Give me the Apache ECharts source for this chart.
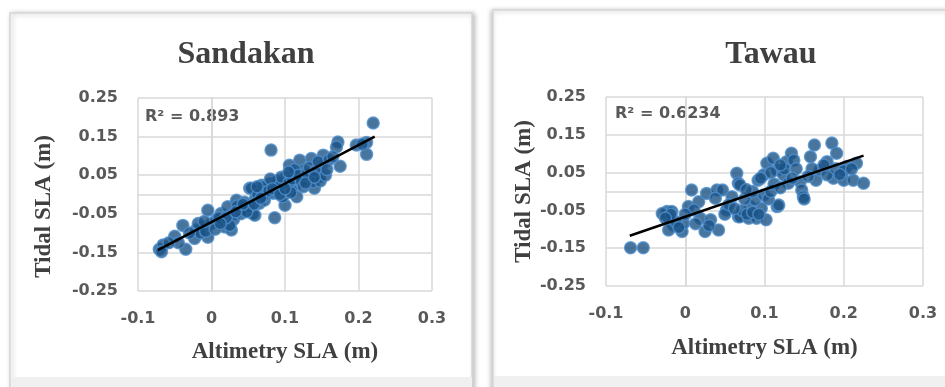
<!DOCTYPE html>
<html>
<head>
<meta charset="utf-8">
<script src="https://cdn.jsdelivr.net/npm/echarts@6/dist/echarts.min.js"></script>
<style>
  html, body { margin: 0; padding: 0; background: #fff; }
  #chart { width: 945px; height: 387px; }
</style>
</head>
<body>
<div id="chart"></div>
<script>
// values
const titles = ['Sandakan', 'Tawau'];
const r2Labels = ['R² = 0.893', 'R² = 0.6234'];

const sandakanAlt = [
  -0.071, -0.066, -0.068, -0.05, -0.039, -0.035, -0.045, -0.023, -0.021, -0.012,
  -0.005, -0.005, -0.015, 0.006, 0.013, 0.018, 0.022, 0.027, 0.027, 0.034,
  0.038, 0.045, 0.052, 0.056, 0.065, 0.068, 0.075, 0.22, 0.211, 0.211,
  0.197, 0.172, 0.17, 0.175, 0.081, 0.086, 0.1, 0.14, 0.152, 0.12,
  0.136, 0.15, 0.147, 0.134, 0.125, 0.106, 0.111, 0.102, 0.116, 0.097,
  0.079, 0.07, 0.061, 0.054, 0.084, 0.097, 0.072, 0.059, 0.052, 0.127,
  0.138, 0.109, 0.116, 0.0, -0.008, 0.01, 0.015, 0.03, 0.025, 0.04,
  0.035, 0.045, 0.048, 0.06, 0.063, 0.07, 0.078, 0.088, 0.092, 0.09,
  0.095, 0.105, 0.11, 0.113, 0.118, 0.122, 0.13, 0.133, 0.142, 0.145,
  0.148, 0.155, 0.16, 0.105, 0.08, 0.062, -0.03, -0.018, 0.005, 0.02,
  0.205, 0.165, 0.108, 0.125, -0.058, -0.01, 0.012, 0.033, 0.043, 0.058,
  0.067, 0.083, 0.093, 0.1, 0.128, 0.14, 0.157
];
const sandakanTide = [
  -0.142, -0.131, -0.148, -0.108, -0.08, -0.142, -0.125, -0.114, -0.092, -0.084,
  -0.041, -0.111, -0.1, -0.067, -0.049, -0.084, -0.032, -0.054, -0.092, -0.015,
  -0.041, -0.036, 0.016, -0.049, -0.023, 0.024, 0.003, 0.185, 0.135, 0.104,
  0.128, 0.136, 0.123, 0.073, 0.115, -0.06, -0.028, 0.016, 0.102, 0.089,
  0.093, 0.076, 0.046, 0.046, 0.063, 0.076, 0.059, 0.046, 0.028, 0.028,
  0.028, 0.02, 0.011, 0.016, 0.003, -0.006, -0.015, -0.054, -0.032, 0.041,
  0.033, 0.011, -0.006, -0.075, -0.095, -0.06, -0.07, -0.065, -0.08, -0.05,
  -0.03, -0.02, -0.045, -0.01, 0.0, -0.005, 0.01, 0.02, 0.012, 0.035,
  0.045, 0.03, 0.04, 0.065, 0.05, 0.035, 0.055, 0.07, 0.06, 0.085,
  0.035, 0.05, 0.09, 0.058, 0.04, 0.02, -0.1, -0.075, -0.09, -0.06,
  0.13, 0.098, 0.005, 0.02, -0.125, -0.07, -0.075, -0.045, -0.025, -0.025,
  -0.01, 0.015, 0.0, 0.015, 0.03, 0.045, 0.065
];

const tawauAlt = [
  -0.069, -0.053, -0.023, -0.017, -0.021, -0.015, -0.021, -0.004, -0.002, 0.004,
  0.008, 0.017, 0.019, 0.025, 0.032, 0.027, 0.042, 0.04, 0.047, 0.038,
  0.052, 0.065, 0.067, 0.067, 0.059, 0.011, -0.029, 0.069, 0.069, 0.08,
  0.09, 0.102, 0.096, 0.082, 0.088, 0.099, 0.116, 0.118, 0.092, 0.099,
  0.103, 0.111, 0.116, 0.124, 0.128, 0.134, 0.137, 0.13, 0.145, 0.147,
  0.149, 0.158, 0.163, 0.165, 0.17, 0.179, 0.185, 0.191, 0.187, 0.2,
  0.204, 0.212, 0.216, 0.225, 0.179, -0.012, -0.008, 0.0, 0.013, 0.03,
  0.05, 0.055, 0.072, 0.075, 0.078, 0.085, 0.093, 0.105, 0.108, 0.112,
  0.12, 0.125, 0.14, 0.135, 0.12, 0.108, 0.095, 0.085, 0.077, 0.16,
  0.175, 0.19, 0.2, 0.21, 0.195, 0.15, 0.155, 0.062, -0.018, -0.025
];
const tawauTide = [
  -0.149, -0.149, -0.053, -0.053, -0.067, -0.089, -0.102, -0.106, -0.084, -0.04,
  0.004, -0.027, -0.071, -0.106, -0.075, -0.005, -0.102, 0.004, 0.004, -0.018,
  -0.049, 0.048, 0.022, -0.067, -0.014, -0.049, -0.058, 0.017, -0.067, -0.071,
  -0.071, -0.075, -0.044, -0.04, -0.022, -0.009, -0.04, -0.036, 0.03, 0.044,
  0.075, 0.088, 0.057, 0.044, 0.079, 0.101, 0.083, 0.022, 0.026, 0.004,
  -0.014, 0.092, 0.123, 0.03, 0.057, 0.079, 0.128, 0.101, 0.035, 0.03,
  0.066, 0.03, 0.075, 0.022, 0.044, -0.08, -0.095, -0.06, -0.085, -0.09,
  -0.06, -0.035, -0.05, -0.02, -0.06, -0.055, -0.06, -0.02, 0.0, 0.02,
  0.01, 0.06, 0.06, 0.035, 0.07, 0.05, 0.035, 0.0, 0.005, 0.06,
  0.07, 0.06, 0.055, 0.06, 0.045, -0.02, 0.04, -0.045, -0.06, -0.07
];

// trend line ends [x0, x1], [y0, y1]
const sandakanTrendX = [-0.073, 0.222];
const sandakanTrendY = [-0.144, 0.15];
const tawauTrendX = [-0.07, 0.225];
const tawauTrendY = [-0.117, 0.095];

const xAxisName = 'Altimetry SLA (m)';
const yAxisName = 'Tidal SLA (m)';

const zip = (a, b) => a.map((v, i) => [v, b[i]]);

const chart = echarts.init(document.getElementById('chart'));

const labelStyle = {
  color: '#595959',
  fontFamily: 'DejaVu Sans',
  fontWeight: 'bold',
  fontSize: 16
};
const nameStyle = {
  color: '#404040',
  fontFamily: 'Liberation Serif',
  fontWeight: 'bold',
  fontSize: 23
};
const gridLine = { lineStyle: { color: '#d9d9d9', width: 1.5 } };

const makeX = (idx, nameGap) => ({
  type: 'value',
  gridIndex: idx,
  min: -0.1,
  max: 0.3,
  interval: 0.1,
  name: xAxisName,
  nameLocation: 'middle',
  nameGap: nameGap,
  nameTextStyle: nameStyle,
  axisLine: { show: true, lineStyle: { color: '#d9d9d9', width: 1.5 } },
  axisTick: { show: false },
  splitLine: gridLine,
  axisLabel: Object.assign({
    margin: 20,
    formatter: v => (Math.abs(v) < 1e-9 ? '0' : v.toFixed(1))
  }, labelStyle)
});

const makeY = (idx, nameGap, pad) => ({
  type: 'value',
  gridIndex: idx,
  min: -0.25,
  max: 0.25,
  interval: 0.1,
  name: yAxisName,
  nameLocation: 'middle',
  nameGap: nameGap,
  nameTextStyle: Object.assign({ padding: pad }, nameStyle),
  axisLine: { show: true, lineStyle: { color: '#d9d9d9', width: 1.5 } },
  axisTick: { show: false },
  splitLine: gridLine,
  axisLabel: Object.assign({
    margin: 20,
    formatter: v => v.toFixed(2)
  }, labelStyle)
});

// dark blue dot with a lighter rim
const dotStyle = {
  color: '#1b5285',
  borderColor: '#4f8fcc',
  borderWidth: 1.5
};

const scatter = (idx, xs, ys) => ({
  type: 'scatter',
  xAxisIndex: idx,
  yAxisIndex: idx,
  symbolSize: 12,
  itemStyle: dotStyle,
  data: zip(xs, ys),
  silent: true
});

const trend = (idx, xs, ys) => ({
  type: 'line',
  xAxisIndex: idx,
  yAxisIndex: idx,
  symbol: 'none',
  lineStyle: { color: '#000', width: 2.5 },
  data: zip(xs, ys),
  z: 5,
  silent: true
});

const titleStyle = { color: '#404040', fontFamily: 'Liberation Serif', fontWeight: 'bold', fontSize: 32 };

const option = {
  animation: false,
  backgroundColor: '#fff',
  title: [
    { text: titles[0], left: 241, top: 34, textAlign: 'center', textStyle: titleStyle },
    { text: titles[1], left: 766, top: 34, textAlign: 'center', textStyle: titleStyle }
  ],
  grid: [
    { left: 138, top: 98, width: 294, height: 193 },
    { left: 606, top: 97, width: 317, height: 189 }
  ],
  xAxis: [makeX(0, 50), makeX(1, 51)],
  yAxis: [makeY(0, 82, [0, 24, 0, 0]), makeY(1, 70, [0, 0, 0, 0])],
  graphic: [
    {
      type: 'rect', z: -10,
      shape: { x: 10, y: 13, width: 462, height: 390 },
      style: { fill: '#fff', stroke: '#d6d6d6', lineWidth: 1.5, shadowBlur: 5, shadowOffsetX: 2, shadowOffsetY: 1, shadowColor: 'rgba(0,0,0,0.25)' }
    },
    {
      type: 'rect', z: -10,
      shape: { x: 493, y: 10, width: 470, height: 390 },
      style: { fill: '#fff', stroke: '#d6d6d6', lineWidth: 1.5, shadowBlur: 5, shadowOffsetX: -1, shadowOffsetY: 1, shadowColor: 'rgba(0,0,0,0.25)' }
    },
    {
      type: 'rect', z: -5,
      shape: { x: 11, y: 377, width: 461, height: 10 },
      style: { fill: '#f0f0f0' }
    },
    {
      type: 'rect', z: -5,
      shape: { x: 494, y: 376, width: 451, height: 11 },
      style: { fill: '#f0f0f0' }
    },
    {
      type: 'text', left: 145, top: 109,
      style: Object.assign({ text: r2Labels[0] }, labelStyle, { fill: '#595959' })
    },
    {
      type: 'text', left: 615, top: 106,
      style: Object.assign({ text: r2Labels[1] }, labelStyle, { fill: '#595959' })
    }
  ],
  series: [
    scatter(0, sandakanAlt, sandakanTide),
    trend(0, sandakanTrendX, sandakanTrendY),
    scatter(1, tawauAlt, tawauTide),
    trend(1, tawauTrendX, tawauTrendY)
  ]
};

chart.setOption(option);
</script>
</body>
</html>
